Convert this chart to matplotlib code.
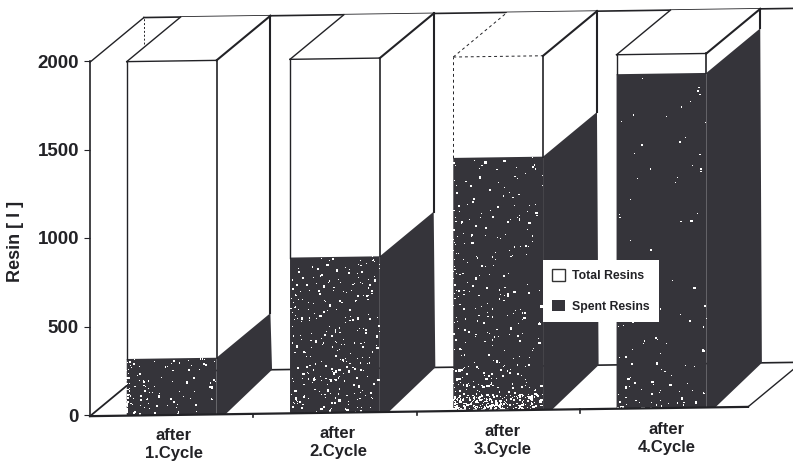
import matplotlib
matplotlib.use("Agg")
import matplotlib.pyplot as plt
import matplotlib.transforms as mtrans
from matplotlib.patches import Patch, Polygon

categories = ["after\n1.Cycle", "after\n2.Cycle", "after\n3.Cycle", "after\n4.Cycle"]
total_resins = [2000, 2000, 2000, 2000]
spent_resins = [320, 880, 1430, 1890]
y_ticks = [0, 500, 1000, 1500, 2000]

DARK = "#35343a"
INK = "#222226"
BAR_WIDTH = 0.55
# the scan is sheared for the 3d look and slightly tilted
DEPTH_X = 0.33
DEPTH_Y = 252
TILT = 13

# white print noise on the front faces (count, pull to the left, pull to the bottom)
speck_style = [(120, 2.4, 1.0), (300, 1.0, 1.2), (380, 1.4, 1.8), (120, 1.2, 2.4)]

plt.rcParams["font.family"] = ["Liberation Sans", "DejaVu Sans"]

fig = plt.figure(figsize=(7.93, 4.66), dpi=100)
ax = fig.add_axes([90 / 793, 51 / 466, 658 / 793, 354 / 466])
ax.set_xlim(-0.5, 3.53)
ax.set_ylim(0, 2000)


def pt(x, value, depth=0.0):
    return (x + depth * DEPTH_X, value + depth * DEPTH_Y + TILT * x)


def face(points, color, zorder=3):
    ax.add_patch(Polygon(points, closed=True, facecolor=color, edgecolor="none",
                         linewidth=0, clip_on=False, zorder=zorder))


def line(a, b, lw=1.0, ls="-", zorder=4):
    ax.plot([a[0], b[0]], [a[1], b[1]], color=INK, lw=lw, ls=ls, clip_on=False, zorder=zorder)


def specks(x0, x1, height, count, pull_x, pull_y, zorder):
    xs, ys, sizes = [], [], []
    for k in range(1, count + 1):
        u = (k * k * 0.6180339) % 1
        v = (k * k * k * 0.0414213) % 1
        px, py = pt(x0 + (x1 - x0) * u ** pull_x, height * v ** pull_y)
        xs.append(px)
        ys.append(py)
        sizes.append([0.5, 1.2, 0.5, 0.8, 2.5][k % 5])
    ax.scatter(xs, ys, s=sizes, marker="s", color="white", linewidths=0, clip_on=False, zorder=zorder)


# back wall and floor
left, right = -0.5, 3.53
line(pt(left, 0), pt(left, 0, 1), lw=1.3, zorder=1)
line(pt(left, 2000), pt(left, 2000, 1), lw=1.0, zorder=1)
line(pt(left, 2000, 1), pt(3.85, 2000, 1), lw=1.2, zorder=1)
line(pt(left, 1850, 1), pt(left, 2000, 1), lw=0.7, ls=(0, (2, 2)), zorder=1)
line(pt(left, 0, 1), pt(right + 0.05, 0, 1), lw=1.2, zorder=1)
line(pt(left, 0), pt(right, 0), lw=1.6, zorder=10)
line(pt(right, 0), pt(right, 0, 1), lw=1.0, zorder=1)
for b in [0.5, 1.5, 2.5]:
    p = pt(b, 0)
    ax.plot([p[0], p[0]], [p[1], p[1] - 20], color=INK, lw=1.2, clip_on=False, zorder=5)

for i, (total, spent) in enumerate(zip(total_resins, spent_resins)):
    x0, x1 = i - BAR_WIDTH / 2, i + BAR_WIDTH / 2
    z = 3 + i

    # top and side faces
    face([pt(x0, total), pt(x1, total), pt(x1, total, 1), pt(x0, total, 1)], "white", zorder=z)
    face([pt(x1, spent), pt(x1, total), pt(x1, total, 1), pt(x1, spent, 1)], "white", zorder=z)
    face([pt(x1, 0), pt(x1 + 0.055, 0), pt(x1 + 0.01, 0, 1), pt(x1, spent, 1), pt(x1, spent)], DARK, zorder=z)

    # front face
    face([pt(x0, spent), pt(x1, spent), pt(x1, total), pt(x0, total)], "white", zorder=z)
    face([pt(x0, 0), pt(x1, 0), pt(x1, spent), pt(x0, spent)], DARK, zorder=z)
    count, pull_x, pull_y = speck_style[i]
    specks(x0, x1, spent, count, pull_x, pull_y, z)
    if i == 2:
        specks(x0, x1, 90, 220, 1.1, 1.0, z)

    # outlines, the third bar printed badly
    ls = (0, (3, 3)) if i == 2 else "-"
    lw = 0.7 if i == 2 else 1.0
    line(pt(x0, spent), pt(x0, total), lw=lw, ls=ls, zorder=z)
    line(pt(x0, total), pt(x1, total), lw=lw, ls=ls, zorder=z)
    line(pt(x0, total), pt(x0, total, 1), lw=lw, ls=ls, zorder=z)
    line(pt(x1, spent), pt(x1, total), lw=1.2, zorder=z)
    line(pt(x1, total), pt(x1, total, 1), lw=1.5, zorder=z)
    line(pt(x1, spent, 1), pt(x1, total, 1), lw=1.5, zorder=z)

for s in ["top", "right", "bottom"]:
    ax.spines[s].set_visible(False)
ax.spines["left"].set_linewidth(1.2)
ax.spines["left"].set_color(INK)
ax.spines["left"].set_zorder(2)

ax.set_yticks(y_ticks)
ax.tick_params(axis="y", length=4, width=0.8, pad=4, colors=INK)
for lab in ax.get_yticklabels():
    lab.set_fontsize(13.5)
    lab.set_fontweight("bold")

ax.set_xticks(range(len(categories)))
ax.set_xticklabels(categories, fontsize=12, fontweight="bold", color=INK, linespacing=1.3)
ax.tick_params(axis="x", length=0, pad=9)
for n, lab in enumerate(ax.get_xticklabels()):
    shift = mtrans.ScaledTranslation((2 + n) / 100, (2 * n) / 100, fig.dpi_scale_trans)
    lab.set_transform(lab.get_transform() + shift)

ax.set_ylabel("Resin [ l ]", fontsize=13, fontweight="bold", color=INK)
ax.yaxis.set_label_coords(-0.1, 0.49)

handles = [
    Patch(facecolor="white", edgecolor="#333333", linewidth=1.0, label="Total Resins"),
    Patch(facecolor=DARK, edgecolor="none", linewidth=0, label="Spent Resins"),
]
leg = ax.legend(handles=handles, loc="upper left", bbox_to_anchor=(0.688, 0.438),
                frameon=True, fancybox=False, framealpha=1, edgecolor="none", handlelength=1.07,
                handleheight=1.07, labelspacing=1.45, borderpad=0.75, borderaxespad=0, handletextpad=0.57,
                labelcolor=INK, prop={"weight": "bold", "size": 8.8})
leg.set_zorder(20)

fig.savefig("out.png", dpi=100)
